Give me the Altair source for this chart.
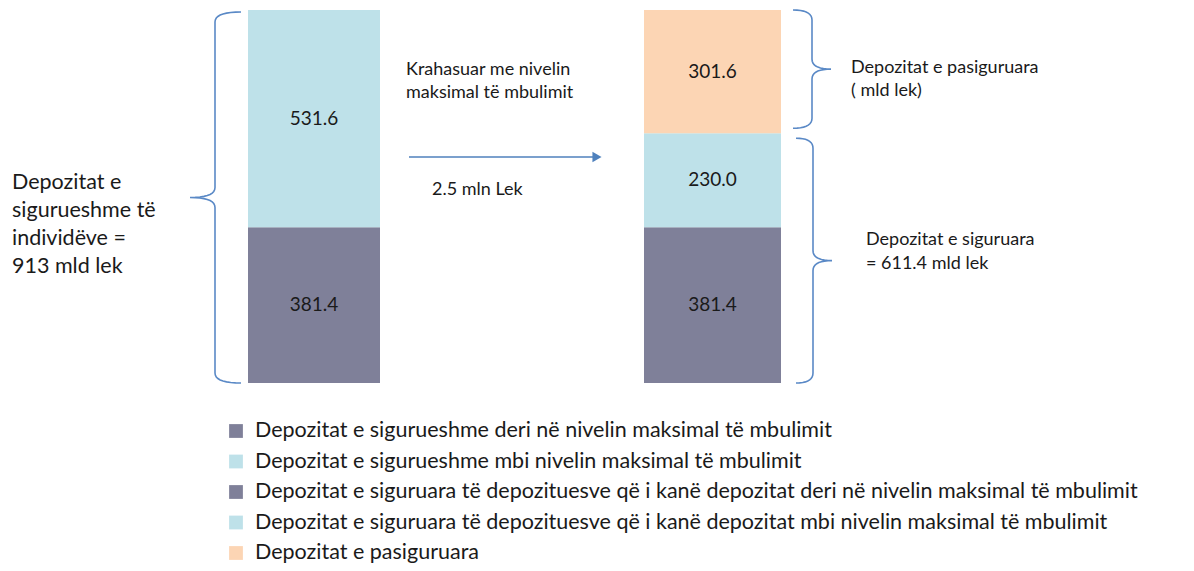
import altair as alt
import pandas as pd
import numpy as np

# ---------------- data ----------------
bar_names = ["Depozitat e sigurueshme", "Depozitat e siguruara"]
left_series = [
    "Depozitat e sigurueshme deri në nivelin maksimal të mbulimit",
    "Depozitat e sigurueshme mbi nivelin maksimal të mbulimit",
]
left_values = [381.4, 531.6]
right_series = [
    "Depozitat e siguruara të depozituesve  që i kanë depozitat deri në  nivelin  maksimal të mbulimit",
    "Depozitat e siguruara të depozituesve  që i kanë depozitat mbi nivelin maksimal të mbulimit",
    "Depozitat e pasiguruara",
]
right_values = [381.4, 230.0, 301.6]
legend_labels = left_series + right_series
series_colors = ["#7F8099", "#BEE1E9", "#7F8099", "#BEE1E9", "#FCD5B4"]

left_note = ["Depozitat e", "sigurueshme të", "individëve =", "913  mld lek"]
arrow_note_top = ["Krahasuar me nivelin", "maksimal të  mbulimit"]
arrow_note_bottom = ["2.5 mln Lek"]
right_note_top = ["Depozitat e pasiguruara", "( mld lek)"]
right_note_bottom = ["Depozitat e siguruara", "= 611.4 mld lek"]

# ---------------- layout (page pixels) ----------------
W, H = 1178, 555
PAGE0 = 8
BASE_PX, TOP_PX = 383, 10
total = sum(left_values)
k = (BASE_PX - TOP_PX) / total          # px per unit
Y_MIN = (BASE_PX - (PAGE0 + H)) / k
Y_MAX = (BASE_PX - PAGE0) / k


def yv(py):
    return (BASE_PX - py) / k


BAR_X = {bar_names[0]: (248, 380), bar_names[1]: (644, 781)}
BRACE_BLUE = "#5A89C6"
FONT = "Lato"
TXT = "#1A1A1A"

rows = []
for i, (s, v) in enumerate(zip(left_series, left_values)):
    rows.append(dict(bar=bar_names[0], series=s, value=v, order=i,
                     x0=BAR_X[bar_names[0]][0], x1=BAR_X[bar_names[0]][1]))
for i, (s, v) in enumerate(zip(right_series, right_values)):
    rows.append(dict(bar=bar_names[1], series=s, value=v, order=i,
                     x0=BAR_X[bar_names[1]][0], x1=BAR_X[bar_names[1]][1]))
bar_df = pd.DataFrame(rows)

xs = alt.Scale(domain=[PAGE0, PAGE0 + W], nice=False, zero=False)
ys = alt.Scale(domain=[Y_MIN, Y_MAX], nice=False, zero=False)
cs = alt.Scale(domain=legend_labels, range=series_colors)


def X(f):
    return alt.X(f, scale=xs, axis=None)


def Y(f):
    return alt.Y(f, scale=ys, axis=None)


base = alt.Chart(bar_df).transform_stack(
    stack="value", as_=["v0", "v1"], groupby=["bar"],
    sort=[alt.SortField("order", order="ascending")],
)

bars = base.mark_bar(opacity=1).encode(
    x=X("x0:Q"), x2="x1:Q", y=Y("v0:Q"), y2="v1:Q",
    color=alt.Color("series:N", scale=cs, legend=None),
)

bar_labels = base.transform_calculate(
    mid="(datum.v0 + datum.v1) / 2", xc="(datum.x0 + datum.x1) / 2"
).mark_text(font=FONT, fontSize=19, color=TXT, align="center", baseline="middle").encode(
    x=X("xc:Q"), y=Y("mid:Q"), text=alt.Text("value:Q", format=".1f")
)


# ---------------- braces ----------------
def brace(bid, x_end, x_spine, x_tip, top, bot, ry_px=10, n=10):
    ry = ry_px / k
    mid = (top + bot) / 2
    pts = []

    def quad(p0, c, p1):
        t = np.linspace(0, 1, n)
        for tt in t:
            pts.append(((1 - tt) ** 2 * p0[0] + 2 * (1 - tt) * tt * c[0] + tt ** 2 * p1[0],
                        (1 - tt) ** 2 * p0[1] + 2 * (1 - tt) * tt * c[1] + tt ** 2 * p1[1]))

    quad((x_end, top), (x_spine, top), (x_spine, top - ry))
    quad((x_spine, mid + ry), (x_spine, mid), (x_tip, mid))
    quad((x_tip, mid), (x_spine, mid), (x_spine, mid - ry))
    quad((x_spine, bot + ry), (x_spine, bot), (x_end, bot))
    return [dict(brace=bid, i=j, x=p[0], y=p[1]) for j, p in enumerate(pts)]


gap = 5 / k
split = right_values[0] + right_values[1]
brace_rows = (
    brace("L", 241, 215, 190, yv(12), yv(383))
    + brace("R1", 793, 812, 831, total, split + gap)
    + brace("R2", 796, 813, 832, split - gap, 0)
)
brace_df = pd.DataFrame(brace_rows)
braces = alt.Chart(brace_df).mark_line(color=BRACE_BLUE, strokeWidth=1.6).encode(
    x=X("x:Q"), y=Y("y:Q"), order="i:Q", detail="brace:N"
)

# ---------------- arrow ----------------
arrow_df = pd.DataFrame([dict(x=409, x2=594, y=yv(157))])
arrow_line = alt.Chart(arrow_df).mark_rule(color="#4F81BD", strokeWidth=1.6).encode(
    x=X("x:Q"), x2="x2:Q", y=Y("y:Q")
)
arrow_head = alt.Chart(pd.DataFrame([dict(x=597, y=yv(157))])).mark_point(
    shape="triangle-right", filled=True, size=110, color="#4F81BD", opacity=1
).encode(x=X("x:Q"), y=Y("y:Q"))

# ---------------- annotations ----------------
ann_rows = []
for i, t in enumerate(left_note):
    ann_rows.append(dict(x=12, y=yv(183 + 28 * i), text=t, fs=21.5))
for i, t in enumerate(arrow_note_top):
    ann_rows.append(dict(x=406, y=yv(70 + 23 * i), text=t, fs=18))
ann_rows.append(dict(x=432, y=yv(190), text=arrow_note_bottom[0], fs=18))
for i, t in enumerate(right_note_top):
    ann_rows.append(dict(x=851, y=yv(68 + 23 * i), text=t, fs=18))
for i, t in enumerate(right_note_bottom):
    ann_rows.append(dict(x=866, y=yv(240 + 24 * i), text=t, fs=18))
ann_df = pd.DataFrame(ann_rows)
annotations = alt.Chart(ann_df).mark_text(
    font=FONT, color=TXT, align="left", baseline="middle"
).encode(x=X("x:Q"), y=Y("y:Q"), text="text:N", size=alt.Size("fs:Q", scale=None, legend=None))

# ---------------- legend (drawn from legend_labels) ----------------
leg_df = pd.DataFrame([dict(series=s, y=yv(431 + 30.5 * i), xs=236, xt=255)
                       for i, s in enumerate(legend_labels)])
leg_sym = alt.Chart(leg_df).mark_square(size=190, opacity=1).encode(
    x=X("xs:Q"), y=Y("y:Q"), color=alt.Color("series:N", scale=cs, legend=None)
)
leg_txt = alt.Chart(leg_df).mark_text(
    font=FONT, fontSize=21.5, color=TXT, align="left", baseline="middle"
).encode(x=X("xt:Q"), y=Y("y:Q"), text="series:N")

chart = alt.layer(
    bars, bar_labels, braces, arrow_line, arrow_head, annotations, leg_sym, leg_txt
).properties(width=W, height=H, padding=0, autosize="none", background="white"
).configure_view(strokeWidth=0)

chart.save("out.html", embed_options={"renderer": "svg", "actions": False})
